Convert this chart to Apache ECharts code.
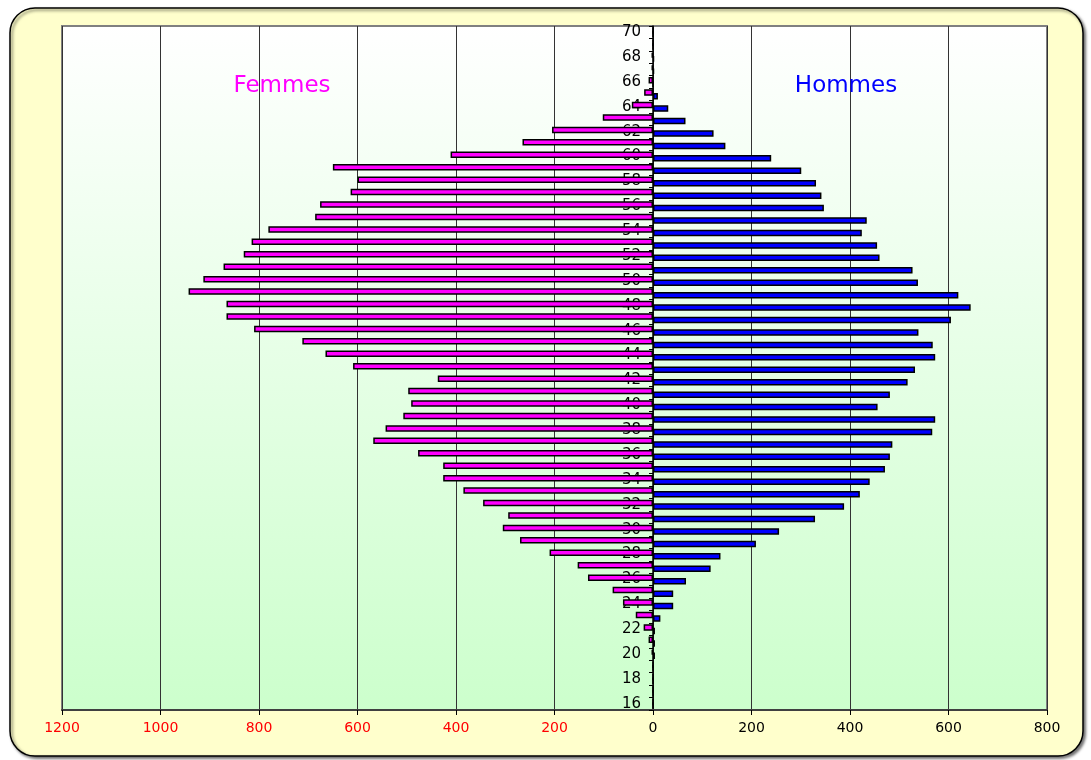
<!DOCTYPE html>
<html>
<head>
<meta charset="utf-8">
<script src="https://cdn.jsdelivr.net/npm/echarts@6/dist/echarts.min.js"></script>
<style>
  html, body { margin: 0; padding: 0; background: #ffffff; }
  #chart { width: 1091px; height: 760px; }
</style>
</head>
<body>
<div id="chart"></div>
<script>
// Ages on the vertical axis (bottom to top)
const ages = ['16','17','18','19','20','21','22','23','24','25',
              '26','27','28','29','30','31','32','33','34','35',
              '36','37','38','39','40','41','42','43','44','45',
              '46','47','48','49','50','51','52','53','54','55',
              '56','57','58','59','60','61','62','63','64','65',
              '66','67','68','69','70'];

// Headcount per age, women
const femmes = [0, 0, 0, 0, 3, 9, 19, 35, 61, 82,
                132, 153, 210, 270, 305, 294, 345, 385, 426, 426,
                477, 568, 543, 507, 491, 497, 437, 609, 665, 712,
                810, 866, 866, 943, 913, 872, 831, 815, 781, 686,
                676, 614, 600, 650, 411, 265, 205, 102, 43, 18,
                9, 3, 3, 0, 0];

// Headcount per age, men
const hommes = [0, 0, 0, 0, 4, 4, 4, 15, 41, 41,
                67, 117, 137, 209, 256, 329, 388, 420, 440, 471,
                481, 486, 567, 573, 456, 481, 517, 532, 573, 568,
                539, 605, 645, 620, 538, 527, 460, 455, 424, 434,
                347, 342, 331, 301, 240, 147, 123, 66, 31, 10,
                0, 2, 2, 0, 0];

// Horizontal scale: women to the left of zero, men to the right
const xMin = -1200;
const xMax = 800;
const xStep = 200;

const seriesNames = ['Femmes', 'Hommes'];
const seriesColors = ['#FF00FF', '#0000FF'];

const gridLeft = 62;
const gridRight = 44;
const gridWidth = 1091 - gridLeft - gridRight;
// shift of the age axis from the grid's left edge to the zero line
const zeroShift = Math.round(gridWidth * (0 - xMin) / (xMax - xMin));

const chart = echarts.init(document.getElementById('chart'), null, { renderer: 'canvas' });

const labelFont = '"DejaVu Sans", "Liberation Sans", Arial, sans-serif';

chart.setOption({
  animation: false,
  backgroundColor: '#ffffff',
  graphic: [
    {
      type: 'rect',
      z: -10,
      silent: true,
      shape: { x: 10, y: 8, width: 1073, height: 748, r: 25 },
      style: {
        fill: '#FFFFCC',
        stroke: '#000000',
        lineWidth: 1.5,
        shadowBlur: 3,
        shadowOffsetX: 2,
        shadowOffsetY: 2,
        shadowColor: 'rgba(0,0,0,0.55)'
      }
    },
    {
      type: 'text',
      z: 10,
      silent: true,
      x: 282,
      y: 86,
      style: {
        text: seriesNames[0],
        fill: seriesColors[0],
        font: '23px ' + labelFont,
        align: 'center',
        verticalAlign: 'middle'
      }
    },
    {
      type: 'text',
      z: 10,
      silent: true,
      x: 846,
      y: 86,
      style: {
        text: seriesNames[1],
        fill: seriesColors[1],
        font: '23px ' + labelFont,
        align: 'center',
        verticalAlign: 'middle'
      }
    }
  ],
  grid: {
    left: gridLeft,
    right: gridRight,
    top: 26,
    bottom: 50,
    show: true,
    borderColor: '#808080',
    borderWidth: 2,
    backgroundColor: {
      type: 'linear', x: 0, y: 0, x2: 0, y2: 1,
      colorStops: [
        { offset: 0, color: '#FFFFFF' },
        { offset: 1, color: '#CCFFCC' }
      ]
    }
  },
  xAxis: {
    type: 'value',
    min: xMin,
    max: xMax,
    interval: xStep,
    axisLine: { show: true, lineStyle: { color: '#404040', width: 2 } },
    axisTick: { show: true, length: 5, lineStyle: { color: '#000000', width: 1 } },
    splitLine: { show: true, lineStyle: { color: '#333333', width: 1 } },
    axisLabel: {
      margin: 11,
      fontSize: 14,
      fontFamily: labelFont,
      formatter: v => String(Math.abs(v)),
      color: v => (v < 0 ? '#FF0000' : '#000000')
    }
  },
  yAxis: {
    type: 'category',
    data: ages,
    position: 'left',
    offset: -zeroShift,
    axisLine: { show: true, onZero: false, lineStyle: { color: '#000000', width: 1.5 } },
    axisTick: { show: true, interval: 0, length: 4, lineStyle: { color: '#000000', width: 1 } },
    splitLine: { show: false },
    axisLabel: {
      interval: 1,
      margin: 12,
      fontSize: 15,
      fontFamily: labelFont,
      color: '#000000'
    }
  },
  series: [
    {
      name: seriesNames[0],
      type: 'bar',
      data: femmes.map(v => -v),
      barWidth: 6.5,
      barGap: '-45%',
      itemStyle: { color: seriesColors[0], borderColor: '#000000', borderWidth: 1.5 }
    },
    {
      name: seriesNames[1],
      type: 'bar',
      data: hommes,
      barWidth: 6.5,
      barGap: '-45%',
      itemStyle: { color: seriesColors[1], borderColor: '#000000', borderWidth: 1.5 }
    }
  ]
});
</script>
</body>
</html>
